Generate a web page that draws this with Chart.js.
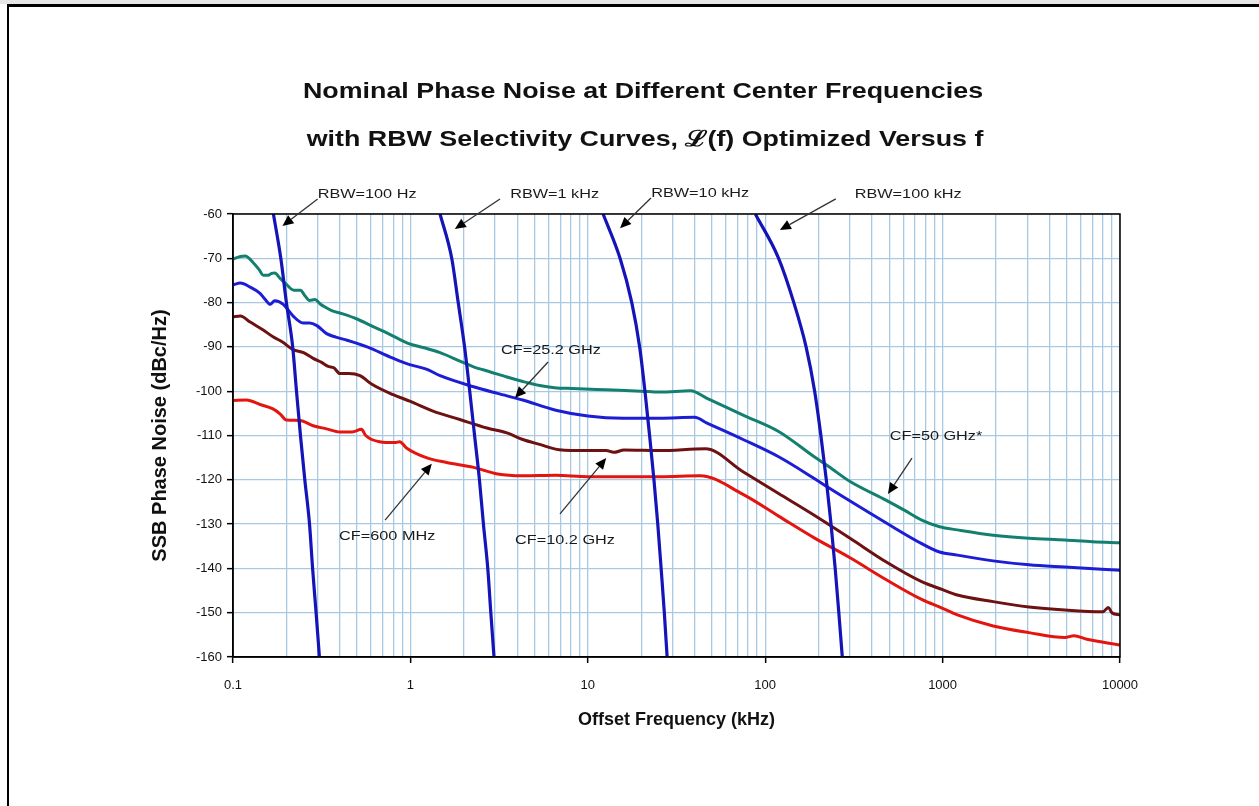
<!DOCTYPE html>
<html>
<head>
<meta charset="utf-8">
<script src="https://cdn.jsdelivr.net/npm/chart.js@4.4.1/dist/chart.umd.min.js"></script>
<style>
  html, body { margin: 0; padding: 0; background: #fff; }
  #wrap { position: relative; width: 1259px; height: 806px; overflow: hidden; }
  #strip { position: absolute; left: 0; top: 0; width: 1259px; height: 4px; background: #e6e6e6; }
  #frameTop { position: absolute; left: 7px; top: 4px; width: 1252px; height: 3px; background: #000; }
  #frameLeft { position: absolute; left: 7px; top: 4px; width: 2px; height: 802px; background: #000; }
  #chart { position: absolute; left: 0; top: 0; }
</style>
</head>
<body>
<div id="wrap">
  <canvas id="chart" width="1259" height="806"></canvas>
  <div id="strip"></div>
  <div id="frameTop"></div>
  <div id="frameLeft"></div>
</div>
<script>
// ---------- Data ----------
// x: offset frequency (kHz), y: SSB phase noise (dBc/Hz)
const xDecades = [0.1, 1, 10, 100, 1000, 10000];
const xTickLabels = ["0.1", "1", "10", "100", "1000", "10000"];
const yMin = -160;
const yMax = -60;
const yStep = 10;

const titleLines = [
  "Nominal Phase Noise at Different Center Frequencies",
  "with RBW Selectivity Curves, \u2112(f) Optimized Versus f"
];

// phase noise curves [kHz, dBc/Hz]
const cf50GHz = [
  [0.1, -70.2], [0.11, -69.6], [0.117, -69.5], [0.13, -71], [0.14, -72.5], [0.148, -73.8],
  [0.158, -73.8], [0.165, -73.4], [0.172, -73.3], [0.185, -74.6], [0.2, -75.9], [0.22, -77.2],
  [0.24, -77.2], [0.255, -78.5], [0.27, -79.5], [0.29, -79.3], [0.31, -80.3], [0.33, -81],
  [0.36, -81.8], [0.42, -82.6], [0.5, -83.7], [0.6, -85.2], [0.76, -87.1], [0.97, -89.2],
  [1.2, -90.2], [1.47, -91.3], [1.9, -93.2], [2.27, -94.5], [2.8, -95.6], [3.5, -96.8],
  [4.3, -97.8], [5.35, -98.7], [6.5, -99.2], [8.2, -99.4], [12.7, -99.7], [20, -100],
  [25.5, -100.2], [38, -99.9], [47, -101.6], [75, -105.4], [119, -109.1], [189, -114.8],
  [228, -117], [301, -120.4], [479, -124.6], [604, -126.8], [762, -129.1], [961, -130.6],
  [1211, -131.3], [1928, -132.5], [3069, -133.2], [4886, -133.6], [7000, -134], [10000, -134.2]
];

const cf25GHz = [
  [0.1, -76], [0.11, -75.6], [0.125, -76.5], [0.142, -77.9], [0.152, -79.3], [0.162, -80.4],
  [0.172, -79.6], [0.192, -80.4], [0.219, -83.1], [0.248, -84.6], [0.27, -84.6], [0.297, -85.2],
  [0.337, -87], [0.38, -87.8], [0.44, -88.5], [0.57, -90], [0.77, -92.3], [0.97, -93.9],
  [1.23, -95], [1.47, -96.5], [2.27, -99], [3.1, -100.5], [4.3, -102], [6.6, -104.3],
  [10, -105.6], [15.8, -106.1], [25.5, -106.1], [40, -105.9], [47, -107.2], [75, -110.9],
  [119, -114.8], [189, -119.7], [228, -121.8], [301, -124.8], [479, -129.7], [762, -134.4],
  [961, -136.3], [1211, -137], [1928, -138.3], [3069, -139.2], [4886, -139.7], [10000, -140.4]
];

const cf10GHz = [
  [0.1, -83.2], [0.11, -83], [0.125, -84.4], [0.148, -86.2], [0.168, -87.7], [0.19, -88.9],
  [0.218, -90.6], [0.25, -91.3], [0.283, -92.6], [0.316, -93.5], [0.344, -94.4], [0.37, -94.7],
  [0.4, -96], [0.45, -96], [0.52, -96.5], [0.61, -98.5], [0.8, -100.8], [1.0, -102.3],
  [1.34, -104.5], [1.9, -106.4], [2.7, -108.3], [3.5, -109.4], [4.3, -110.9], [5.35, -112],
  [6.9, -113.2], [10, -113.4], [12.7, -113.4], [14, -113.8], [16, -113.3], [25.5, -113.4],
  [46, -113], [75, -118.2], [119, -123.1], [189, -128], [301, -133.2], [479, -138.5],
  [762, -143], [1000, -144.8], [1211, -146], [1928, -147.5], [3069, -148.7], [4886, -149.4],
  [8000, -149.8], [8600, -148.8], [9000, -150], [10000, -150.5]
];

const cf600MHz = [
  [0.1, -102.1], [0.119, -102], [0.142, -103], [0.168, -104], [0.184, -105.1], [0.2, -106.5],
  [0.238, -106.6], [0.283, -107.8], [0.337, -108.5], [0.4, -109.2], [0.47, -109.2], [0.53, -108.6],
  [0.56, -110], [0.67, -111.4], [0.82, -111.6], [0.87, -111.4], [0.95, -112.8], [1.23, -115],
  [1.6, -116.1], [2.27, -117.2], [3.1, -118.7], [4.3, -119.1], [6.6, -119], [10, -119.3],
  [25.5, -119.3], [43, -119.1], [75, -123.3], [119, -128.2], [189, -133.1], [301, -137.6],
  [479, -142.5], [762, -147], [1000, -149], [1211, -150.5], [1928, -153], [3069, -154.5],
  [4886, -155.6], [5500, -155.2], [6500, -156], [10000, -157.3]
];

// RBW selectivity curves [kHz, dB]
const rbw100Hz = [
  [0.169, -60], [0.186, -70], [0.2, -80], [0.217, -90], [0.228, -100], [0.24, -110],
  [0.254, -120], [0.27, -130], [0.281, -140], [0.294, -150], [0.307, -160]
];
const rbw1kHz = [
  [1.47, -60], [1.71, -70], [1.86, -80], [2.02, -90], [2.16, -100], [2.3, -110],
  [2.45, -120], [2.58, -130], [2.73, -140], [2.84, -150], [2.96, -160]
];
const rbw10kHz = [
  [12.2, -60], [15.2, -70], [17.7, -80], [19.6, -90], [21, -100], [22.3, -110],
  [23.6, -120], [24.8, -130], [25.9, -140], [27, -150], [28, -160]
];
const rbw100kHz = [
  [88, -60], [119, -70], [145, -80], [170, -90], [190, -100], [206, -110],
  [221, -120], [235, -130], [248, -140], [260, -150], [272, -160]
];

// callouts: text centre, arrow tail, arrow tip (data units)
const callouts = [
  { text: "RBW=100 Hz", at: [0.57, -55.5], from: [0.30, -56.6], to: [0.19, -62.7] },
  { text: "RBW=1 kHz", at: [6.5, -55.5], from: [3.2, -56.6], to: [1.78, -63.4] },
  { text: "RBW=10 kHz", at: [43, -55.3], from: [22.7, -56.4], to: [15.2, -63.2] },
  { text: "RBW=100 kHz", at: [640, -55.5], from: [250, -56.6], to: [121, -63.6] },
  { text: "CF=25.2 GHz", at: [6.2, -90.9], from: [5.97, -93.4], to: [3.89, -101.5] },
  { text: "CF=600 MHz", at: [0.74, -132.7], from: [0.72, -129.1], to: [1.32, -116.4] },
  { text: "CF=10.2 GHz", at: [7.44, -133.6], from: [6.97, -127.7], to: [12.7, -115.1] },
  { text: "CF=50 GHz*", at: [918, -110.3], from: [672, -115.1], to: [492, -123.2] }
];

// ---------- Helpers ----------
function toXY(pairs) {
  return pairs.map(p => ({ x: p[0], y: p[1] }));
}

function isDecade(v) {
  return xDecades.some(d => Math.abs(d - v) < d * 1e-6);
}

// 1..9 per decade for the log grid
function logGridValues() {
  const vals = [];
  for (let i = 0; i < xDecades.length - 1; i++) {
    for (let m = 1; m <= 9; m++) vals.push(+(xDecades[i] * m).toPrecision(6));
  }
  vals.push(xDecades[xDecades.length - 1]);
  return vals;
}

const FONT = "'Liberation Sans', Arial, Helvetica, sans-serif";
const GRID = "#a9c9e3";

function rbwStyle() {
  return { borderColor: "#1414b8", borderWidth: 3.2, pointRadius: 0, cubicInterpolationMode: "monotone" };
}
function noiseStyle(color) {
  return { borderColor: color, borderWidth: 3, pointRadius: 0, cubicInterpolationMode: "monotone" };
}

// ---------- Plugins ----------
const textSpacing = {
  id: "textSpacing",
  beforeInit(chart) { chart.ctx.letterSpacing = "1.5px"; }
};

const frameBox = {
  id: "frameBox",
  afterDatasetsDraw(chart) {
    const { ctx, chartArea: a } = chart;
    ctx.save();
    ctx.strokeStyle = "#000";
    ctx.lineWidth = 1.5;
    ctx.strokeRect(a.left, a.top, a.right - a.left, a.bottom - a.top);
    ctx.restore();
  }
};

function stretchedText(ctx, text, x, y, sx) {
  ctx.save();
  ctx.translate(x, y);
  ctx.scale(sx, 1);
  ctx.fillText(text, 0, 0);
  ctx.restore();
}

const chartTitle = {
  id: "chartTitle",
  afterDraw(chart) {
    const ctx = chart.ctx;
    ctx.save();
    ctx.letterSpacing = "0px";
    ctx.font = "bold 22px " + FONT;
    ctx.fillStyle = "#111";
    ctx.textAlign = "center";
    ctx.textBaseline = "middle";
    stretchedText(ctx, titleLines[0], 643, 92, 1.22);
    stretchedText(ctx, titleLines[1], 645, 140, 1.22);
    ctx.restore();
  }
};

const calloutPlugin = {
  id: "callouts",
  afterDraw(chart) {
    const ctx = chart.ctx;
    const xs = chart.scales.x, ys = chart.scales.y;
    const px = p => [xs.getPixelForValue(p[0]), ys.getPixelForValue(p[1])];
    ctx.save();
    ctx.letterSpacing = "0px";
    callouts.forEach(c => {
      const [tx, ty] = px(c.at);
      const [fx, fy] = px(c.from);
      const [hx, hy] = px(c.to);
      ctx.font = "13px " + FONT;
      ctx.fillStyle = "#1a1a1a";
      ctx.textAlign = "center";
      ctx.textBaseline = "middle";
      stretchedText(ctx, c.text, tx, ty, 1.25);

      const ang = Math.atan2(hy - fy, hx - fx);
      const head = 11, half = 5;
      const bx = hx - head * Math.cos(ang), by = hy - head * Math.sin(ang);
      ctx.strokeStyle = "#333";
      ctx.lineWidth = 1.3;
      ctx.beginPath();
      ctx.moveTo(fx, fy);
      ctx.lineTo(bx, by);
      ctx.stroke();
      ctx.fillStyle = "#000";
      ctx.beginPath();
      ctx.moveTo(hx, hy);
      ctx.lineTo(bx + half * Math.sin(ang), by - half * Math.cos(ang));
      ctx.lineTo(bx - half * Math.sin(ang), by + half * Math.cos(ang));
      ctx.closePath();
      ctx.fill();
    });
    ctx.restore();
  }
};

// ---------- Chart ----------
const gridVals = logGridValues();

new Chart(document.getElementById("chart"), {
  type: "line",
  data: {
    datasets: [
      { label: "RBW=100 Hz", data: toXY(rbw100Hz), ...rbwStyle() },
      { label: "RBW=1 kHz", data: toXY(rbw1kHz), ...rbwStyle() },
      { label: "RBW=10 kHz", data: toXY(rbw10kHz), ...rbwStyle() },
      { label: "RBW=100 kHz", data: toXY(rbw100kHz), ...rbwStyle() },
      { label: "CF=50 GHz*", data: toXY(cf50GHz), ...noiseStyle("#13806f") },
      { label: "CF=25.2 GHz", data: toXY(cf25GHz), ...noiseStyle("#1d1dd6") },
      { label: "CF=10.2 GHz", data: toXY(cf10GHz), ...noiseStyle("#6d1111") },
      { label: "CF=600 MHz", data: toXY(cf600MHz), ...noiseStyle("#e4150f") }
    ]
  },
  options: {
    responsive: false,
    animation: false,
    layout: { padding: { top: 214, right: 139, bottom: 0, left: 0 } },
    plugins: {
      legend: { display: false },
      tooltip: { enabled: false },
      title: { display: false }
    },
    scales: {
      x: {
        type: "logarithmic",
        min: xDecades[0],
        max: xDecades[xDecades.length - 1],
        afterBuildTicks: scale => { scale.ticks = gridVals.map(v => ({ value: v })); },
        afterFit: scale => { scale.height = 149; },
        ticks: {
          autoSkip: false,
          maxRotation: 0,
          padding: 15,
          color: "#111",
          font: { family: FONT, size: 13 },
          callback: v => {
            const i = xDecades.findIndex(d => Math.abs(d - v) < d * 1e-6);
            return i >= 0 ? xTickLabels[i] : "";
          }
        },
        grid: {
          color: GRID,
          lineWidth: 1.3,
          tickLength: 6,
          tickWidth: 1.5,
          tickColor: c => (c.tick && isDecade(c.tick.value)) ? "#000" : "rgba(0,0,0,0)"
        },
        border: { color: "#000", width: 1.5 },
        title: {
          display: true,
          text: "Offset Frequency (kHz)",
          color: "#111",
          font: { family: FONT, size: 18, weight: "bold" },
          padding: { top: 0, bottom: 75 }
        }
      },
      y: {
        min: yMin,
        max: yMax,
        afterFit: scale => { scale.width = 233; },
        ticks: {
          stepSize: yStep,
          padding: 5,
          color: "#111",
          font: { family: FONT, size: 13 },
          callback: v => String(v)
        },
        grid: { color: GRID, lineWidth: 1.3, tickLength: 6, tickWidth: 1.5, tickColor: "#000" },
        border: { color: "#000", width: 1.5 },
        title: {
          display: true,
          text: "SSB Phase Noise (dBc/Hz)",
          color: "#111",
          font: { family: FONT, size: 20, weight: "bold" },
          padding: { top: 148, bottom: 0 }
        }
      }
    }
  },
  plugins: [textSpacing, frameBox, chartTitle, calloutPlugin]
});
</script>
</body>
</html>
